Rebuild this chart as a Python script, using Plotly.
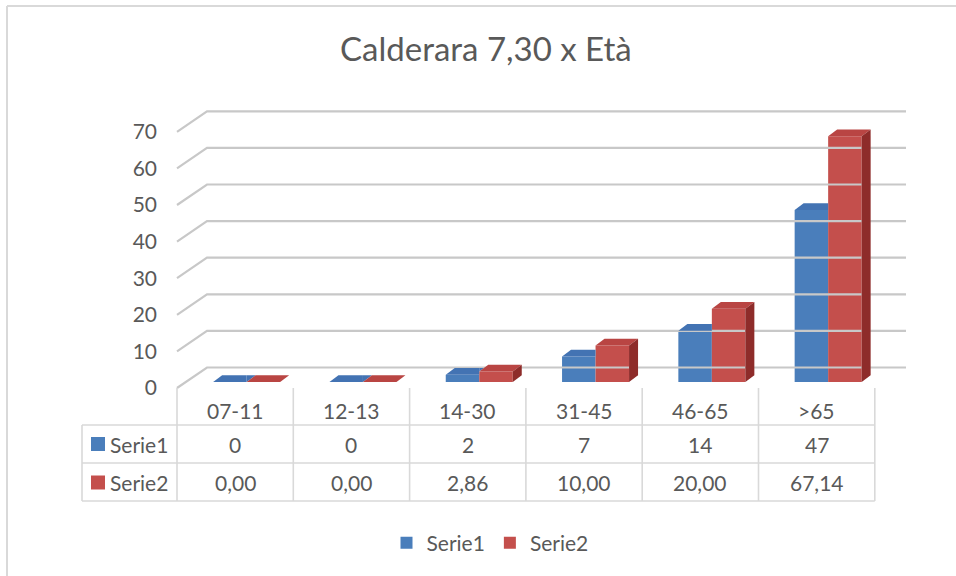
import plotly.graph_objects as go

# ---------------- data ----------------
categories = ["07-11", "12-13", "14-30", "31-45", "46-65", ">65"]
serie1 = [0, 0, 2, 7, 14, 47]
serie2 = [0.00, 0.00, 2.86, 10.00, 20.00, 67.14]
series_names = ["Serie1", "Serie2"]
y_ticks = [0, 10, 20, 30, 40, 50, 60, 70]
title_text = "Calderara 7,30 x Età"

# ---------------- geometry / style ----------------
W, H = 956, 576
PX0 = 177.0      # px of front-left edge of the category axis
PXC = 116.3      # px per category
Y0 = 388.0       # px of value 0 on the front plane
PXV = 3.66       # px per value unit
DX = 30.0 / PXC  # floor depth (x units)
DY = 20.5 / PXV  # floor depth (value units)
XR = (906.0 - PX0) / PXC - 0.5   # right end of back wall
BW = 33.5 / PXC  # bar width
SX = 11.5 / PXC  # bar pair shift inside floor
SY = 6.0 / PXV   # bar base lift
BDX = 9.0 / PXC  # bar depth
BDY = 6.7 / PXV

FONT = "Lato"
TXT = "#595959"
GRID = "#c8c8c8"
TABLE = "#d9d9d9"
BLUE = "#4a7ebb"
BLUE_TOP = "#4373b3"
RED = "#c44f4c"
RED_TOP = "#b94543"
RED_SIDE = "#8e2c2a"


def px(p):
    return p / W


def py(p):
    return 1 - p / H


fig = go.Figure()

# back wall gridlines with 3D left diagonals
gx, gy = [], []
for v in y_ticks:
    gx += [-0.5, -0.5 + DX, XR, None]
    gy += [v, v + DY, v + DY, None]
fig.add_trace(go.Scatter(x=gx, y=gy, mode="lines", line=dict(color=GRID, width=2.2),
                         hoverinfo="skip", showlegend=False))

# front faces of bars
n = len(categories)
xs = [i + SX for i in range(n)]
fig.add_trace(go.Bar(x=xs, y=serie1, base=SY, width=BW, offset=-BW, name=series_names[0],
                     marker=dict(color=BLUE, line=dict(width=0)), hoverinfo="skip"))
fig.add_trace(go.Bar(x=xs, y=serie2, base=SY, width=BW, offset=0, name=series_names[1],
                     marker=dict(color=RED, line=dict(width=0)), hoverinfo="skip"))


def poly(xp, yp, color):
    fig.add_trace(go.Scatter(x=xp + [xp[0]], y=yp + [yp[0]], mode="lines", fill="toself",
                             fillcolor=color, line=dict(width=0, color=color),
                             hoverinfo="skip", showlegend=False))


for i in range(n):
    vb, vr = serie1[i], serie2[i]
    bl = xs[i] - BW
    br = xs[i]
    rr = xs[i] + BW
    tb = SY + vb
    tr = SY + vr
    # blue top face (part not hidden by the red column)
    poly([bl, br, br, bl + BDX], [tb, tb, tb + BDY, tb + BDY], BLUE_TOP)
    if tr >= tb:
        t = 1 - (tr - tb) / BDY
        if t > 0:
            poly([br, br, br + t * BDX], [tr, tb + BDY, tb + BDY], BLUE_TOP)
    # red top face
    poly([br, rr, rr + BDX, br + BDX], [tr, tr, tr + BDY, tr + BDY], RED_TOP)
    # red right side face
    poly([rr, rr + BDX, rr + BDX, rr], [SY, SY + BDY, tr + BDY, tr], RED_SIDE)

shapes = []
# outer chart border (left and top visible)
shapes.append(dict(type="line", xref="paper", yref="paper", x0=px(7), x1=px(7), y0=py(6), y1=0,
                   line=dict(color=TABLE, width=2)))
shapes.append(dict(type="line", xref="paper", yref="paper", x0=px(7), x1=1, y0=py(6), y1=py(6),
                   line=dict(color=TABLE, width=2)))
# data table
for k in range(n + 1):
    shapes.append(dict(type="line", xref="x", yref="paper", x0=k - 0.5, x1=k - 0.5,
                       y0=py(Y0), y1=py(501), line=dict(color=TABLE, width=1.6)))
x_right = PX0 + n * PXC
for yy in [425, 463, 501]:
    shapes.append(dict(type="line", xref="paper", yref="paper", x0=px(82), x1=px(x_right),
                       y0=py(yy), y1=py(yy), line=dict(color=TABLE, width=1.6)))
shapes.append(dict(type="line", xref="paper", yref="paper", x0=px(82), x1=px(82),
                   y0=py(425), y1=py(501), line=dict(color=TABLE, width=1.6)))
# row keys
for yc, col in [(444, BLUE), (482.5, RED)]:
    shapes.append(dict(type="rect", xref="paper", yref="paper", x0=px(91), x1=px(105),
                       y0=py(yc - 7), y1=py(yc + 7), fillcolor=col, line=dict(width=0)))


def label(x, y, text, size=21, xref="x", xanchor="center"):
    return dict(x=x, y=y, xref=xref, yref="paper", text=text, showarrow=False,
                xanchor=xanchor, yanchor="middle",
                font=dict(family=FONT, size=size, color=TXT))


ann = []
for i, c in enumerate(categories):
    ann.append(label(i, py(410), c))
    ann.append(label(i, py(444), f"{serie1[i]:d}"))
    ann.append(label(i, py(482.5), f"{serie2[i]:.2f}".replace(".", ",")))
for yc, name in [(444, series_names[0]), (482.5, series_names[1])]:
    ann.append(label(px(108), py(yc), name, xref="paper", xanchor="left"))
ann.append(label(px(486), py(48), title_text, size=33, xref="paper"))

fig.update_layout(
    width=W, height=576, margin=dict(l=0, r=0, t=0, b=0),
    paper_bgcolor="white", plot_bgcolor="rgba(0,0,0,0)",
    barmode="overlay", shapes=shapes, annotations=ann,
    xaxis=dict(domain=[px(170), px(910)],
               range=[-0.5 - 7 / PXC, -0.5 + (910 - PX0) / PXC],
               visible=False, fixedrange=True),
    yaxis=dict(domain=[py(400), py(100)],
               range=[(Y0 - 400) / PXV, (Y0 - 100) / PXV],
               tickvals=y_ticks, ticktext=[str(v) for v in y_ticks],
               showgrid=False, zeroline=False, showline=False, ticks="",
               ticklabelstandoff=12,
               tickfont=dict(family=FONT, size=21, color=TXT), fixedrange=True),
    legend=dict(orientation="h", x=px(490), xanchor="center", y=py(543), yanchor="middle",
                font=dict(family=FONT, size=21, color=TXT), itemwidth=30,
                bgcolor="rgba(0,0,0,0)"),
    showlegend=True,
)

fig.write_html("out.html", config={"displayModeBar": False},
               post_script="document.body.style.margin='0';document.body.style.overflow='hidden';")
